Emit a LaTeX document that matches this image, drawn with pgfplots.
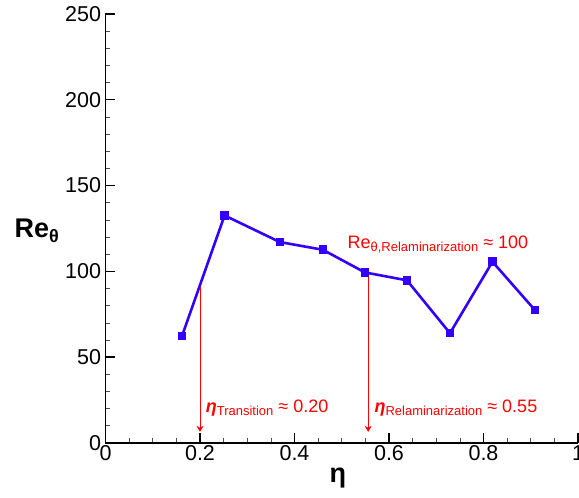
\documentclass[border=0pt]{standalone}
\usepackage{pgfplots}
\pgfplotsset{compat=1.18}
\usepackage{fontspec}
\setmainfont{Liberation Sans}
\usetikzlibrary{arrows.meta}
\definecolor{lineblue}{RGB}{51,0,255}
\begin{document}
\begin{tikzpicture}
\begin{axis}[
  scale only axis,
  width=472.5pt, height=429pt,
  xmin=0, xmax=1, ymin=0, ymax=250,
  axis lines=left,
  axis line style={line width=1.8pt, -},
  xtick={0,0.2,0.4,0.6,0.8,1},
  xticklabels={0,0.2,0.4,0.6,0.8,1},
  ytick={0,50,100,150,200,250},
  minor x tick num=3,
  minor y tick num=4,
  tick align=inside,
  major tick length=10pt,
  minor tick length=5pt,
  every major tick/.style={line width=1.4pt, black},
  every minor tick/.style={line width=0.7pt, black!70},
  tick label style={font=\fontsize{21.5}{23}\selectfont},
  /pgf/number format/assume math mode=true,
  xticklabel style={yshift=1pt},
  yticklabel style={xshift=-1pt},
  xlabel={\textbf{η}},
  xlabel style={font=\fontsize{27}{30}\selectfont, at={(axis description cs:0.492,-0.091)}, anchor=base},
  ylabel={\textbf{Re\raisebox{-5pt}{\fontsize{18}{20}\selectfont θ}}},
  ylabel style={font=\fontsize{27}{30}\selectfont, rotate=-90, at={(axis description cs:-0.2,0.48)}, anchor=base west},
  clip=false,
]
\addplot[color=lineblue, line width=2.6pt, mark=square*, mark size=3.8pt, mark options={line width=0pt, fill=lineblue}] coordinates {
(0.162,62.4) (0.252,132.6) (0.369,117.1) (0.460,112.6) (0.549,99.4) (0.638,94.8) (0.729,64.0) (0.819,105.6) (0.909,77.4)
};
\draw[red, line width=0.8pt, -{Stealth[length=6pt,width=7pt]}] (axis cs:0.2,91) -- (axis cs:0.2,6.5);
\draw[red, line width=0.8pt, -{Stealth[length=6pt,width=7pt]}] (axis cs:0.556,99.4) -- (axis cs:0.556,6.5);
\node[red, anchor=base west, inner sep=0pt, font=\fontsize{18}{20}\selectfont] at (axis cs:0.212,17.5)
  {\textbf{\textit{η}}\raisebox{-3pt}{\fontsize{13}{14}\selectfont Transition} ≈ 0.20};
\node[red, anchor=base west, inner sep=0pt, font=\fontsize{18}{20}\selectfont] at (axis cs:0.569,17.5)
  {\textbf{\textit{η}}\raisebox{-3pt}{\fontsize{13}{14}\selectfont Relaminarization} ≈ 0.55};
\node[red, anchor=base west, inner sep=0pt, font=\fontsize{18}{20}\selectfont] at (axis cs:0.512,113.5)
  {Re\raisebox{-3pt}{\fontsize{13}{14}\selectfont θ,Relaminarization} ≈ 100};
\end{axis}
\pgfresetboundingbox
\useasboundingbox (-105.5pt,-55pt) rectangle (473.5pt,443pt);
\end{tikzpicture}
\end{document}
